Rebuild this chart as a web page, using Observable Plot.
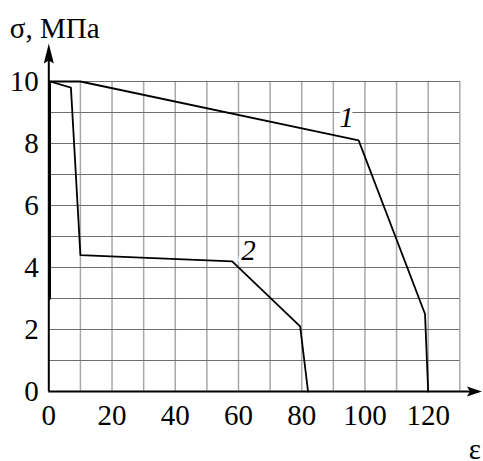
<!DOCTYPE html>
<html><head><meta charset="utf-8">
<script src="https://cdn.jsdelivr.net/npm/d3@7"></script>
<script src="https://cdn.jsdelivr.net/npm/@observablehq/plot@0.6"></script>
<style>body{margin:0;background:#fff}</style></head>
<body><div id="chart"></div>
<script>
// Curve 1
const curve1Strain = [0.4, 0.4, 10, 98, 119, 120];
const curve1Stress = [3, 10, 10, 8.1, 2.5, 0];
// Curve 2
const curve2Strain = [0.4, 0.4, 7, 10, 58, 79.5, 82];
const curve2Stress = [3, 10, 9.8, 4.4, 4.2, 2.1, 0];
// Ticks and grid
const xTicks = [0, 20, 40, 60, 80, 100, 120];
const yTicks = [0, 2, 4, 6, 8, 10];
const gridX = [10, 20, 30, 40, 50, 60, 70, 80, 90, 100, 110, 120, 130];
const gridY = [1, 2, 3, 4, 5, 6, 7, 8, 9, 10];
// Labels
const curveLabels = ["1", "2"];
const labelStrain = [94.2, 63.2];
const labelStress = [8.84, 4.55];
const yTitle = "σ, МПа";
const xTitle = "ε";

const rows = [
  ...curve1Strain.map((x, i) => ({series: "1", x, y: curve1Stress[i]})),
  ...curve2Strain.map((x, i) => ({series: "2", x, y: curve2Stress[i]}))
];
const labels = curveLabels.map((t, i) => ({t, x: labelStrain[i], y: labelStress[i]}));

const arrowUp = {draw(c) { c.moveTo(0, 0); c.lineTo(5, 20); c.lineTo(0, 17); c.lineTo(-5, 20); c.closePath(); }};
const arrowRight = {draw(c) { c.moveTo(0, 0); c.lineTo(-15, -5); c.lineTo(-12, 0); c.lineTo(-15, 5); c.closePath(); }};

const font = "Liberation Serif";

const chart = Plot.plot({
  width: 483,
  height: 461,
  marginLeft: 48.3,
  marginRight: 23.7,
  marginTop: 81,
  marginBottom: 70,
  style: {fontFamily: font, fontSize: "29px", color: "black", background: "white"},
  x: {domain: [0, 130], axis: null},
  y: {domain: [0, 10], axis: null},
  marks: [
    Plot.ruleX(gridX, {y1: 0, y2: 10, stroke: "#a8a8a8", strokeWidth: 1.5}),
    Plot.ruleY(gridY, {x1: 0, x2: 130, stroke: "#6e6e6e", strokeWidth: 1}),
    Plot.ruleX([0], {y1: 0, y2: 11, stroke: "black", strokeWidth: 2}),
    Plot.ruleY([0], {x1: 0, x2: 136, stroke: "black", strokeWidth: 2}),
    Plot.line(rows, {x: "x", y: "y", z: "series", stroke: "black", strokeWidth: 1.8}),
    Plot.dot([{x: 0, y: 11.226}], {x: "x", y: "y", symbol: arrowUp, fill: "black", stroke: null}),
    Plot.dot([{x: 137, y: 0}], {x: "x", y: "y", symbol: arrowRight, fill: "black", stroke: null}),
    // tick labels positioned through the scales
    Plot.text(xTicks, {x: d => d, y: 0, text: d => String(d), dy: 13, lineAnchor: "top", fontSize: 29, fontFamily: font, fill: "black"}),
    Plot.text(yTicks, {x: 0, y: d => d, text: d => String(d), dx: -10, textAnchor: "end", lineAnchor: "middle", fontSize: 29, fontFamily: font, fill: "black"}),
    Plot.text(labels, {x: "x", y: "y", text: "t", fontSize: 29, fontFamily: font, fontStyle: "italic", fill: "black", stroke: "white", strokeWidth: 6}),
    Plot.text([yTitle], {frameAnchor: "top-left", dx: -39, dy: -44, textAnchor: "start", lineAnchor: "bottom", fontSize: 29, fontFamily: font, fill: "black"}),
    Plot.text([xTitle], {frameAnchor: "bottom-right", dx: 9, dy: 67, textAnchor: "start", lineAnchor: "bottom", fontSize: 29, fontFamily: font, fill: "black"})
  ]
});
document.getElementById("chart").appendChild(chart);
</script>
</body></html>
